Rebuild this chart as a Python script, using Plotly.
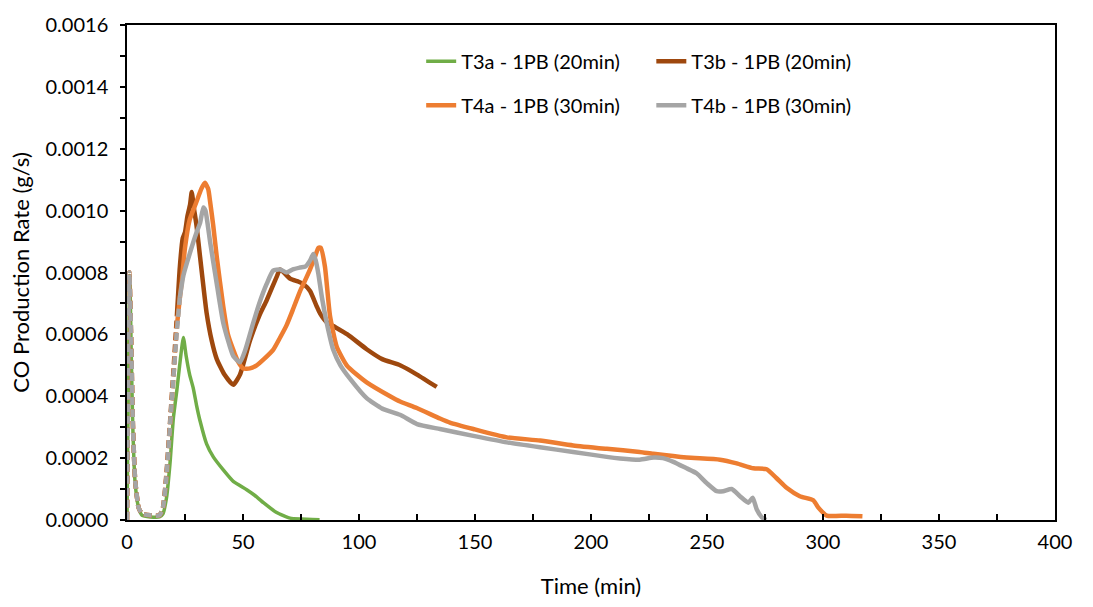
import numpy as np
import plotly.graph_objects as go

# ---------------- data ----------------
t3a_t = [0, 1.2, 1.8, 2.5, 3.5, 5, 6.5, 10, 14, 15.5, 17, 18.5, 20, 21.5, 23, 24.3, 25.5, 27,
         28.6, 30, 31.5, 34.3, 37.2, 41.5, 45.8, 51.6, 55, 58.8, 64.5, 70.3, 75, 83]
t3a_v = [0, 0.00079, 0.00055, 0.00030, 0.00012, 0.00004, 0.000015, 0.00001, 0.00001, 0.00002,
         0.00007, 0.00018, 0.00033, 0.00042, 0.00052, 0.00059, 0.00053, 0.00047, 0.000425,
         0.00037, 0.00032, 0.000246, 0.000204, 0.000162, 0.000125, 0.000098, 0.00008, 0.000056,
         0.000024, 0.000006, 0.000003, 0.000001]

t3b_t = [0, 1.0, 1.8, 2.5, 3.5, 5, 6.5, 10, 14, 15.5, 17, 18.5, 20, 21.5, 22.8, 24, 25, 26, 27.2,
         27.9, 28.8, 30, 31.5, 34.3, 36.5, 38.7, 42, 45.8, 48.7, 53, 57, 60.2, 64.5, 66, 70.3, 74,
         76, 78.9, 81.8, 83.2, 86, 88.9, 95, 103.3, 110, 117.7, 125, 133.5]
t3b_v = [0, 0.0008, 0.00058, 0.00032, 0.00013, 0.00004, 0.00002, 0.000015, 0.000015, 0.00004,
         0.00015, 0.00031, 0.00048, 0.00066, 0.00082, 0.00091, 0.00093, 0.00098, 0.00102, 0.00106,
         0.00101, 0.00095, 0.00085, 0.00067, 0.00058, 0.00052, 0.00047, 0.000437, 0.00047, 0.00058,
         0.00066, 0.00071, 0.000786, 0.00081, 0.00078, 0.00077, 0.000763, 0.00074, 0.00069,
         0.000668, 0.00064, 0.000627, 0.0006, 0.000552, 0.00052, 0.0005, 0.00047, 0.00043]

t4a_t = [0, 1.0, 1.8, 2.5, 3.5, 5, 6.5, 10, 14, 15.5, 17, 18.5, 20, 21.4, 22.8, 23.6, 25, 27, 29,
         30.5, 32, 33.6, 35, 35.8, 37.2, 38.7, 41.5, 43.5, 45.8, 48, 50.1, 53, 55.9, 59, 63, 66,
         68.8, 71.5, 74.6, 76.5, 78.9, 81, 82.5, 83.5, 85.3, 87.5, 90.4, 94.7, 99, 103.3, 113.4,
         117.7, 124.9, 134.9, 139.2, 149.3, 163.7, 178, 192.3, 206.8, 221, 226.9, 241.2, 255.6,
         262.8, 270, 275.7, 280, 284.3, 290, 295.8, 298, 301.6, 310, 317]
t4a_v = [0, 0.0008, 0.00058, 0.00032, 0.00013, 0.00004, 0.00002, 0.000015, 0.000015, 0.00004,
         0.00014, 0.0003, 0.00046, 0.00062, 0.00072, 0.00077, 0.00088, 0.00097, 0.00101, 0.00104,
         0.00107, 0.00109, 0.00107, 0.00103, 0.00095, 0.00085, 0.00069, 0.0006, 0.00055, 0.00051,
         0.00049, 0.00049, 0.0005, 0.00052, 0.00055, 0.00059, 0.00063, 0.00068, 0.00074, 0.00077,
         0.00081, 0.00085, 0.00088, 0.00088, 0.00082, 0.00066, 0.00056, 0.00050, 0.00047, 0.000445,
         0.0004, 0.000383, 0.000362, 0.000328, 0.000315, 0.000294, 0.000267, 0.000257, 0.000241,
         0.00023, 0.00022, 0.000214, 0.000202, 0.000195, 0.000183, 0.000167, 0.000164, 0.000135,
         0.000104, 0.000077, 0.000064, 0.00004, 0.000014, 0.000014, 0.000012]

t4b_t = [0, 1.0, 1.8, 2.5, 3.5, 5, 6.5, 10, 14, 15.5, 17, 18.5, 20, 21.4, 22.8, 24.3, 27, 30,
         31.5, 32.9, 33.8, 35.8, 38.7, 41.5, 45.8, 48.7, 51, 54.4, 57, 60.2, 63, 66, 68.8, 71.5,
         74.6, 77, 79, 80.3, 81.3, 82.5, 84, 86.1, 88.9, 92, 96.1, 103.3, 110, 117.7, 125, 134.9,
         149.3, 163.7, 178, 192.3, 206.8, 212.5, 221, 226.9, 231, 235.5, 241.2, 245.5, 249.9,
         254.2, 257, 260.6, 264.2, 267.8, 269.7, 271.4, 273.6, 275.5]
t4b_v = [0, 0.0008, 0.00058, 0.00032, 0.00013, 0.00004, 0.00002, 0.000015, 0.000015, 0.00004,
         0.00014, 0.0003, 0.00046, 0.0006, 0.00072, 0.00079, 0.00086, 0.00093, 0.00096, 0.00101,
         0.00100, 0.0009, 0.000763, 0.000637, 0.00053, 0.00051, 0.00055, 0.000637, 0.0007,
         0.000763, 0.000806, 0.00081, 0.0008, 0.00081, 0.000816, 0.00082, 0.00084, 0.00086,
         0.00084, 0.000795, 0.00072, 0.000637, 0.00055, 0.0005, 0.000457, 0.000394, 0.00036,
         0.00034, 0.00031, 0.000294, 0.000272, 0.000251, 0.000235, 0.00022, 0.000204, 0.000199,
         0.000195, 0.000202, 0.0002, 0.000188, 0.000167, 0.000151, 0.000119, 0.000093, 0.000093,
         0.0001, 0.000077, 0.000056, 0.000072, 0.000035, 0.000009, 0.0]

names = ["T3a - 1PB (20min)", "T3b - 1PB (20min)", "T4a - 1PB (30min)", "T4b - 1PB (30min)"]
colors = ["#70AD47", "#9E480E", "#ED7D31", "#A5A5A5"]
dash_end = [None, 21.5, 21.4, 22.8]   # early part drawn dashed (time of last dashed point)
legend_ids = ["legend", "legend2", "legend3", "legend4"]

FONT = "Lato"

fig = go.Figure()
all_t = [t3a_t, t3b_t, t4a_t, t4b_t]
all_v = [t3a_v, t3b_v, t4a_v, t4b_v]
widths = [3.5, 4.5, 4.5, 4.5]

for name, t, v, c, de, lg, w in zip(names, all_t, all_v, colors, dash_end, legend_ids, widths):
    t = np.array(t)
    v = np.array(v)
    if de is None:
        fig.add_trace(go.Scatter(x=t, y=v, mode="lines", name=name, legend=lg,
                                 line=dict(color=c, width=w, shape="spline", smoothing=0.5)))
    else:
        early = t <= de + 1e-9
        late = t >= de - 1e-9
        fig.add_trace(go.Scatter(x=t[early], y=v[early], mode="lines", showlegend=False,
                                 line=dict(color=c, width=w, dash="8px,4px",
                                           shape="spline", smoothing=0.5)))
        fig.add_trace(go.Scatter(x=t[late], y=v[late], mode="lines", name=name, legend=lg,
                                 line=dict(color=c, width=w, shape="spline", smoothing=0.5)))

leg_font = dict(family=FONT, size=20, color="#000000")
pos = {"legend": (0.317, 0.927), "legend2": (0.565, 0.927),
       "legend3": (0.317, 0.838), "legend4": (0.565, 0.838)}
legs = {}
for k, (x, y) in pos.items():
    legs[k] = dict(x=x, y=y, xanchor="left", yanchor="middle", font=leg_font,
                   bgcolor="rgba(0,0,0,0)", borderwidth=0)

fig.update_layout(
    width=1093, height=607,
    margin=dict(l=127, r=38, t=16, b=86),
    paper_bgcolor="white", plot_bgcolor="white",
    font=dict(family=FONT, size=20, color="#000000"),
    **legs,
)

fig.update_xaxes(
    range=[0, 400], dtick=50, tick0=0,
    showgrid=False, zeroline=False,
    showline=True, linecolor="black", linewidth=1.5, mirror=True,
    ticks="inside", ticklen=6, tickwidth=1.5, tickcolor="black",
    minor=dict(dtick=25, ticks="inside", ticklen=6, tickwidth=1.5, tickcolor="black"),
    ticklabelstandoff=3,
    title=dict(text="Time (min)", font=dict(family=FONT, size=22), standoff=27),
    tickfont=dict(family=FONT, size=20),
)
fig.update_yaxes(
    range=[0, 0.0016], dtick=0.0002, tick0=0, tickformat=".4f",
    showgrid=False, zeroline=False,
    showline=True, linecolor="black", linewidth=1.5, mirror=True,
    ticks="outside", ticklen=5, tickwidth=1.5, tickcolor="black",
    minor=dict(dtick=0.0001, ticks="outside", ticklen=5, tickwidth=1.5, tickcolor="black"),
    ticklabelstandoff=8,
    title=dict(text="CO Production Rate (g/s)", font=dict(family=FONT, size=22), standoff=10),
    tickfont=dict(family=FONT, size=20),
)

fig.write_html("out.html")
